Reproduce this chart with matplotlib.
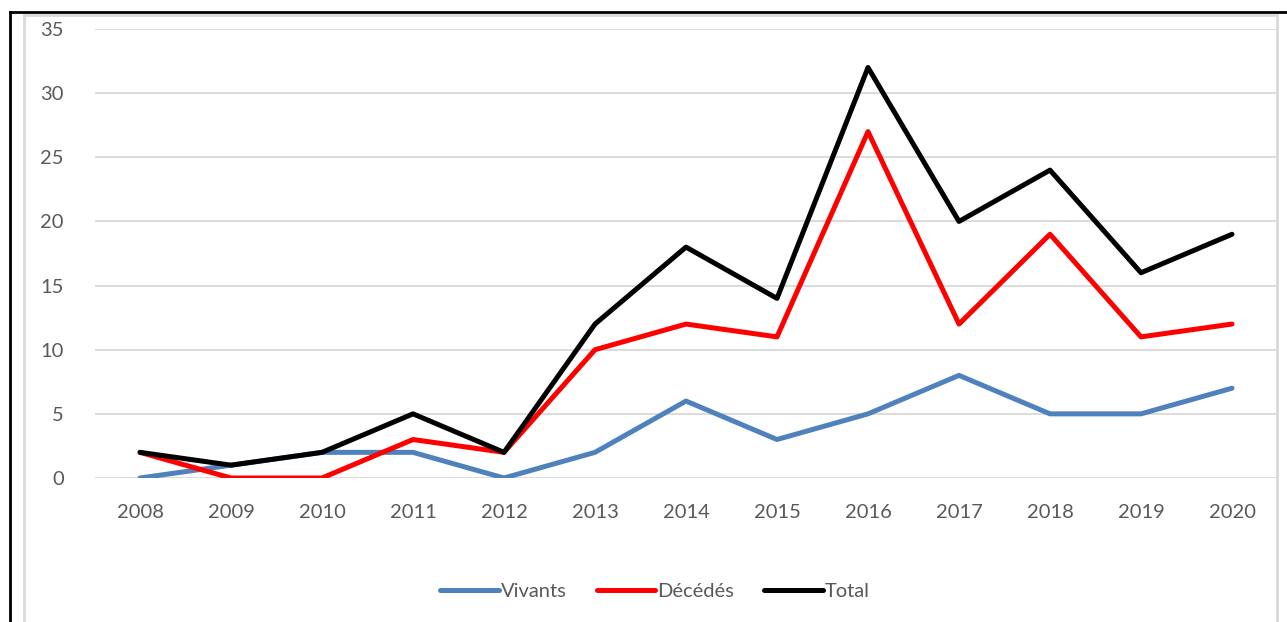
import matplotlib.pyplot as plt
from matplotlib.lines import Line2D
from matplotlib.patches import Rectangle

years = ['2008', '2009', '2010', '2011', '2012', '2013', '2014',
         '2015', '2016', '2017', '2018', '2019', '2020']
vivants = [0, 1, 2, 2, 0, 2, 6, 3, 5, 8, 5, 5, 7]
decedes = [2, 0, 0, 3, 2, 10, 12, 11, 27, 12, 19, 11, 12]
total = [2, 1, 2, 5, 2, 12, 18, 14, 32, 20, 24, 16, 19]

plt.rcParams['font.family'] = ['Lato', 'DejaVu Sans']

W, H = 1287, 622
fig = plt.figure(figsize=(W / 100, H / 100), dpi=100)
ax = fig.add_axes([94.5 / W, 1 - 478 / H, (1277.5 - 94.5) / W, (478 - 29) / H])

x = list(range(len(years)))
ax.plot(x, vivants, color='#4F81BD', lw=3.6, label='Vivants', solid_capstyle='round')
ax.plot(x, decedes, color='#FF0000', lw=3.6, label='Décédés', solid_capstyle='round')
ax.plot(x, total, color='#000000', lw=3.6, label='Total', solid_capstyle='round')

ax.set_xlim(-0.5, len(years) - 0.5)
ax.set_ylim(0, 35)
ax.set_yticks(range(0, 36, 5))
ax.set_xticks(x)
ax.set_xticklabels(years)
ax.tick_params(axis='both', length=0, labelsize=14.5, colors='#595959')
ax.tick_params(axis='x', pad=19)
ax.tick_params(axis='y', pad=22)
ax.grid(axis='y', color='#D9D9D9', lw=1.3)
ax.set_axisbelow(True)
for s in ax.spines.values():
    s.set_visible(False)

fig.legend(loc='center', bbox_to_anchor=(655 / W, 1 - 591 / H), ncol=3,
           frameon=False, fontsize=14.5, handlelength=2.9, handletextpad=0.1,
           columnspacing=1.5, labelcolor='#595959')

# chart area border (light gray) and outer black frame
fig.patches.append(Rectangle((24 / W, -0.1), (1277 - 24) / W, 1.1 - 15 / H,
                             transform=fig.transFigure, fill=False,
                             ec='#D9D9D9', lw=2))
fig.lines.append(Line2D([10 / W, 1.0], [1 - 12 / H] * 2, transform=fig.transFigure,
                        color='black', lw=2))
fig.lines.append(Line2D([10 / W] * 2, [0, 1 - 12 / H], transform=fig.transFigure,
                        color='black', lw=2))

fig.savefig('out.png', dpi=100)
